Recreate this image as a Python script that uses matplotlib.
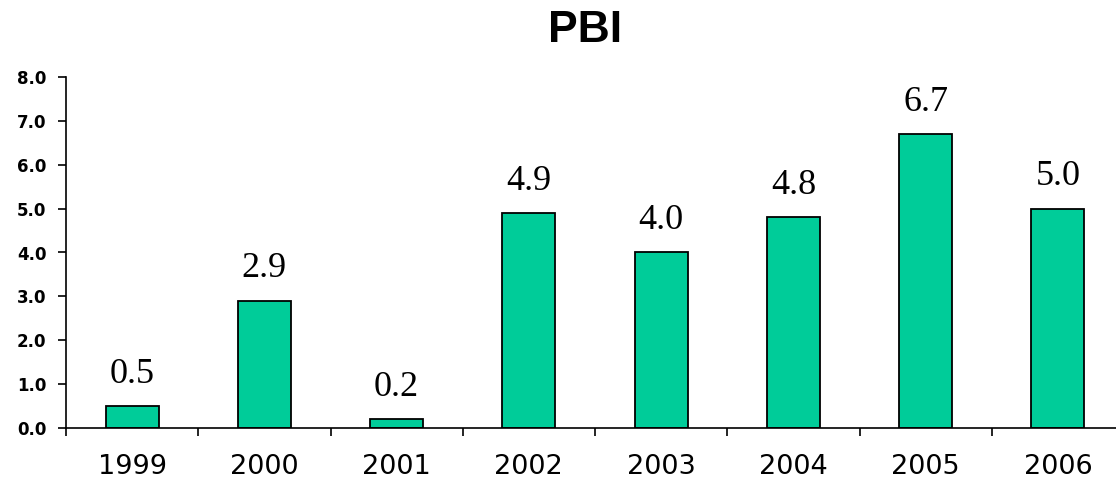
import numpy as np
import matplotlib
matplotlib.use("Agg")
import matplotlib.pyplot as plt

years = ["1999", "2000", "2001", "2002", "2003", "2004", "2005", "2006"]
pbi = [0.5, 2.9, 0.2, 4.9, 4.0, 4.8, 6.7, 5.0]
yticks = [0, 1, 2, 3, 4, 5, 6, 7, 8]

W, H = 1116, 479
fig = plt.figure(figsize=(W / 100, H / 100), dpi=100)
ax = fig.add_axes([66 / W, 51 / H, 1058 / W, 351 / H])

x = np.arange(len(years))
bars = ax.bar(x, pbi, width=0.4, color="#00CC99", edgecolor="black", linewidth=1.3)

for xi, v in zip(x, pbi):
    ax.annotate(f"{v:.1f}", (xi, v), xytext=(0, 11), textcoords="offset points",
                ha="center", va="bottom", fontsize=26, family="Liberation Serif")

ax.set_xlim(-0.5, len(years) - 0.5)
ax.set_ylim(0, 8)
ax.set_yticks(yticks)
ax.set_yticklabels([f"{t:.1f}" for t in yticks], fontsize=12, fontweight="bold",
                   family="DejaVu Sans")
ax.set_xticks(x)
ax.set_xticklabels(years, fontsize=19.5, family="DejaVu Sans")
ax.set_xticks(np.arange(-0.5, len(years), 1), minor=True)
ax.tick_params(axis="x", which="major", length=0, pad=19)
ax.tick_params(axis="x", which="minor", length=6, width=1.2, direction="out")
ax.tick_params(axis="y", length=6, width=1.2, direction="out", pad=8)

for s in ["top", "right"]:
    ax.spines[s].set_visible(False)
for s in ["left", "bottom"]:
    ax.spines[s].set_linewidth(1.2)

fig.text(585 / W, 1 - 30 / H, "PBI", ha="center", va="center", fontsize=32,
         fontweight="bold", family="Liberation Sans")

fig.savefig("out.png", dpi=100)
